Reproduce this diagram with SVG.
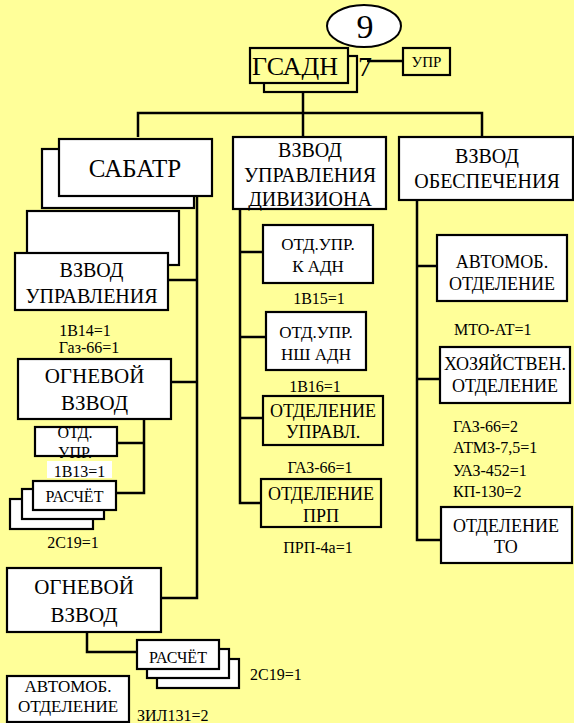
<svg xmlns="http://www.w3.org/2000/svg" width="574" height="723" viewBox="0 0 574 723">
<style>
.bg{fill:#FFFF99}
.w{fill:#FFFFFF;stroke:#000;stroke-width:2.2}
.y{fill:#FFFF99;stroke:#000;stroke-width:2.2}
.ln{fill:none;stroke:#000;stroke-width:2.5}
text{font-family:'Liberation Serif','Times New Roman',serif;fill:#000;text-anchor:middle}
.l{text-anchor:start}
</style>
<rect class="bg" x="0" y="0" width="574" height="723"/>
<g id="connectors">
<polyline class="ln" points="303,92 303,113"/>
<polyline class="ln" points="138,137 138,113 482,113 482,137"/>
<polyline class="ln" points="303,113 303,137"/>
<polyline class="ln" points="367,61 403,61"/>
<polyline class="ln" points="197,196 197,598 161,598"/>
<polyline class="ln" points="168,280 197,280"/>
<polyline class="ln" points="171,382 197,382"/>
<polyline class="ln" points="144,419 144,493 116,493"/>
<polyline class="ln" points="117,443 144,443"/>
<polyline class="ln" points="87,632 87,652 137,652"/>
<polyline class="ln" points="240,209 240,503 261,503"/>
<polyline class="ln" points="240,252 263,252"/>
<polyline class="ln" points="240,337 266,337"/>
<polyline class="ln" points="240,418 263,418"/>
<polyline class="ln" points="417,200 417,540 441,540"/>
<polyline class="ln" points="417,266 437,266"/>
<polyline class="ln" points="417,379 440,379"/>
</g>
<g id="n9">
<ellipse cx="364" cy="26" rx="37" ry="21" fill="#fff" stroke="#000" stroke-width="2"/>
<text x="365" y="38" font-size="34">9</text>
</g>
<g id="gsadn">
<rect class="y" x="264" y="56" width="93" height="36"/>
<rect class="y" x="250" y="48" width="98" height="35"/>
<text x="295" y="75" font-size="26">ГСАДН</text>
<text x="365" y="76" font-size="28">7</text>
</g>
<g id="upr">
<rect class="y" x="403" y="48" width="47" height="27"/>
<text x="426.5" y="67" font-size="15">УПР</text>
</g>
<g id="sabatr">
<rect class="w" x="42" y="149" width="152" height="59"/>
<rect class="w" x="59" y="139" width="153" height="57"/>
<text x="135" y="177" font-size="25">САБАТР</text>
</g>
<g id="vzvod-upr">
<rect class="w" x="27" y="211" width="152" height="54"/>
<rect class="w" x="15" y="253" width="153" height="57"/>
<text x="91.5" y="277" font-size="20">ВЗВОД</text>
<text x="91.5" y="303" font-size="20">УПРАВЛЕНИЯ</text>
</g>
<text x="85" y="336" font-size="16">1В14=1</text>
<text x="89" y="353" font-size="16">Газ-66=1</text>
<g id="ognevoy1">
<rect class="w" x="18" y="359" width="153" height="60"/>
<text x="94.5" y="383" font-size="21">ОГНЕВОЙ</text>
<text x="94.5" y="410" font-size="21">ВЗВОД</text>
</g>
<g id="otd-upr-small">
<rect class="w" x="35" y="427" width="82" height="29"/>
<text x="75" y="438" font-size="16">ОТД.</text>
<text x="75" y="458" font-size="16">УПР.</text>
</g>
<rect x="47" y="461" width="65" height="17" fill="#fff"/>
<text x="79.5" y="477" font-size="16">1В13=1</text>
<g id="raschet1">
<rect class="w" x="10" y="499" width="83" height="30"/>
<rect class="w" x="22" y="489" width="82" height="30"/>
<rect class="w" x="33" y="481" width="83" height="29"/>
<text x="74.5" y="502" font-size="16">РАСЧЁТ</text>
</g>
<text x="73" y="548" font-size="16">2С19=1</text>
<g id="ognevoy2">
<rect class="w" x="7" y="568" width="154" height="64"/>
<text x="84" y="594" font-size="21">ОГНЕВОЙ</text>
<text x="84" y="622" font-size="21">ВЗВОД</text>
</g>
<g id="raschet2">
<rect class="w" x="157" y="659" width="82" height="29"/>
<rect class="w" x="147" y="649" width="82" height="29"/>
<rect class="w" x="137" y="640" width="82" height="29"/>
<text x="178" y="663" font-size="16">РАСЧЁТ</text>
</g>
<text x="250" y="680" font-size="16" class="l">2С19=1</text>
<g id="avtomob2">
<rect class="w" x="7" y="676" width="122" height="46"/>
<text x="68" y="692" font-size="17">АВТОМОБ.</text>
<text x="68" y="712" font-size="17">ОТДЕЛЕНИЕ</text>
</g>
<text x="137" y="721" font-size="16" class="l">ЗИЛ131=2</text>
<g id="vzvod-div">
<rect class="w" x="233" y="137" width="153" height="72"/>
<text x="310" y="157" font-size="20">ВЗВОД</text>
<text x="310" y="182" font-size="20">УПРАВЛЕНИЯ</text>
<text x="310" y="206" font-size="20">ДИВИЗИОНА</text>
</g>
<g id="otd-k-adn">
<rect class="w" x="263" y="225" width="110" height="58"/>
<text x="318" y="250" font-size="17">ОТД.УПР.</text>
<text x="318" y="272" font-size="17">К АДН</text>
</g>
<text x="319" y="304" font-size="16">1В15=1</text>
<g id="otd-nsh-adn">
<rect class="w" x="266" y="312" width="100" height="58"/>
<text x="316" y="338" font-size="17">ОТД.УПР.</text>
<text x="316" y="360" font-size="17">НШ АДН</text>
</g>
<text x="315" y="392" font-size="16">1В16=1</text>
<g id="otd-upravl">
<rect class="y" x="263" y="396" width="120" height="49"/>
<text x="323" y="417" font-size="18">ОТДЕЛЕНИЕ</text>
<text x="323" y="438" font-size="18">УПРАВЛ.</text>
</g>
<text x="320" y="473" font-size="16">ГАЗ-66=1</text>
<g id="otd-prp">
<rect class="y" x="261" y="479" width="120" height="48"/>
<text x="321" y="500" font-size="18">ОТДЕЛЕНИЕ</text>
<text x="321" y="522" font-size="18">ПРП</text>
</g>
<text x="318" y="553" font-size="16">ПРП-4а=1</text>
<g id="vzvod-obesp">
<rect class="w" x="399" y="137" width="174" height="63"/>
<text x="487" y="163" font-size="20">ВЗВОД</text>
<text x="487" y="188" font-size="20">ОБЕСПЕЧЕНИЯ</text>
</g>
<g id="avtomob1">
<rect class="w" x="437" y="235" width="130" height="66"/>
<text x="502" y="268" font-size="18">АВТОМОБ.</text>
<text x="502" y="290" font-size="18">ОТДЕЛЕНИЕ</text>
</g>
<text x="454" y="335" font-size="16" class="l">МТО-АТ=1</text>
<g id="hozyaystv">
<rect class="w" x="440" y="347" width="130" height="56"/>
<text x="505" y="370" font-size="18">ХОЗЯЙСТВЕН.</text>
<text x="505" y="392" font-size="18">ОТДЕЛЕНИЕ</text>
</g>
<text x="453" y="432" font-size="16" class="l">ГАЗ-66=2</text>
<text x="453" y="453" font-size="16" class="l">АТМЗ-7,5=1</text>
<text x="453" y="476" font-size="16" class="l">УАЗ-452=1</text>
<text x="453" y="497" font-size="16" class="l">КП-130=2</text>
<g id="otd-to">
<rect class="w" x="441" y="507" width="131" height="56"/>
<text x="506" y="532" font-size="18">ОТДЕЛЕНИЕ</text>
<text x="506" y="553" font-size="18">ТО</text>
</g>
</svg>
